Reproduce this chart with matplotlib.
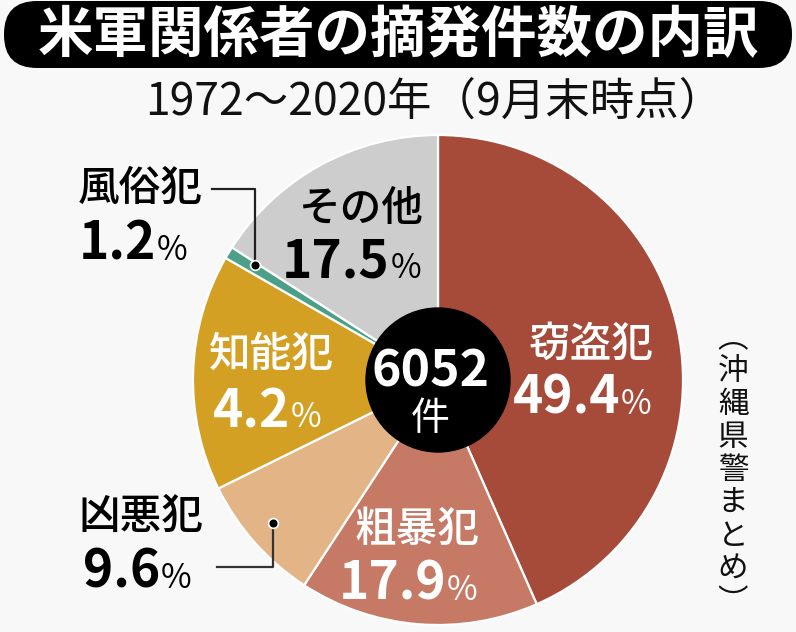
import matplotlib
matplotlib.use("Agg")
import matplotlib.pyplot as plt
from matplotlib.patches import Circle, FancyBboxPatch

plt.rcParams["font.family"] = ["Noto Sans CJK JP", "DejaVu Sans"]

# data
categories = ["窃盗犯", "粗暴犯", "凶悪犯", "知能犯", "風俗犯", "その他"]
pct_labels = [49.4, 17.9, 9.6, 4.2, 1.2, 17.5]
# the newspaper drew the wedges with these shares (not the printed ones)
drawn_share = [43.4, 15.8, 8.5, 15.6, 0.8, 15.9]
total_cases = 6052

title = "米軍関係者の摘発件数の内訳"
subtitle = "1972～2020年（9月末時点）"
source = "︵沖縄県警まとめ︶"

colors = ["#a64a3a", "#c67a66", "#e3b486", "#d4a023", "#4ba087", "#cdcdcd"]
BG = "#f8f8f8"
W, H = 796, 632

# label layout in pixels: (name x, name y, number right edge, baseline, text colour)
label_pos = {
    "窃盗犯": (591, 344, 620, 414, "white"),
    "粗暴犯": (417, 529, 446, 600, "white"),
    "凶悪犯": (141, 516, 160, 588, "black"),
    "知能犯": (271, 354, 290, 427, "white"),
    "風俗犯": (140, 188, 156, 260, "black"),
    "その他": (361, 208, 390, 278, "black"),
}

fig = plt.figure(figsize=(W / 100, H / 100), dpi=100, facecolor=BG)

# pie, centre (438, 380), radius 245 px
cx, cy, r = 438, 380, 245
ax = fig.add_axes([(cx - r) / W, (H - cy - r) / H, 2 * r / W, 2 * r / H])
ax.pie(drawn_share, colors=colors, startangle=90, counterclock=False,
       wedgeprops=dict(edgecolor="white", linewidth=1.6))
ax.set_xlim(-1, 1)
ax.set_ylim(-1, 1)
ax.set_aspect("auto")
ax.axis("off")
ax.add_patch(Circle((0, 0), 72 / r, color="black", zorder=5))

# overlay in pixel coordinates for all text
ov = fig.add_axes([0, 0, 1, 1])
ov.set_xlim(0, W)
ov.set_ylim(H, 0)
ov.axis("off")
ov.patch.set_alpha(0)

ov.add_patch(FancyBboxPatch((4, 1), 788, 67, boxstyle="round,pad=0,rounding_size=33",
                            fc="black", ec="none"))
ov.text(398, 36, title, color="white", fontsize=40, fontweight="bold",
        ha="center", va="center")
ov.text(434, 102, subtitle, color="#111111", fontsize=32, ha="center", va="center")

for name, pct in zip(categories, pct_labels):
    nx, ny, rx, base, col = label_pos[name]
    ov.text(nx, ny, name, color=col, fontsize=30, fontweight="medium",
            ha="center", va="center")
    ov.text(rx, base, f"{pct:.1f}", color=col, fontsize=37, fontweight="bold",
            ha="right", va="baseline")
    ov.text(rx + 1, base, "%", color=col, fontsize=24, ha="left", va="baseline")

# centre total
ov.text(430, 372, str(total_cases), color="white", fontsize=36, fontweight="bold",
        ha="center", va="center")
ov.text(430, 419, "件", color="white", fontsize=28, ha="center", va="center")

# leader lines for the small slices
ov.plot([212, 255, 255], [189, 189, 265], color="#222222", lw=1.6)
ov.plot([255], [265], "o", ms=7, color="black", mec="white", mew=1.2)
ov.plot([217, 273, 273], [567, 567, 523], color="#333333", lw=1.6)
ov.plot([273], [523], "o", ms=7, color="black", mec="white", mew=1.2)

# vertical source note
for i, ch in enumerate(source):
    ov.text(733, 322 + 33 * (i + 0.5), ch, color="#111111", fontsize=22,
            ha="center", va="center")

fig.savefig("out.png", dpi=100, facecolor=BG)
